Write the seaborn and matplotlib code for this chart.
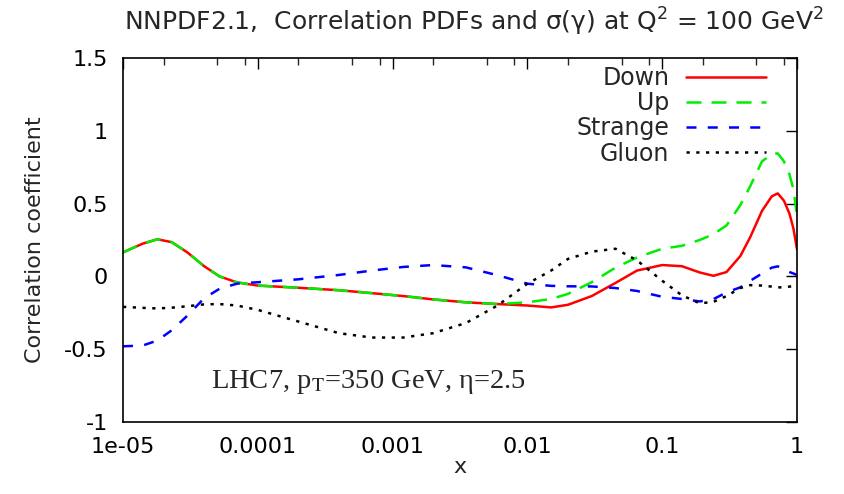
import numpy as np
import pandas as pd
import matplotlib
matplotlib.use("Agg")
import matplotlib.pyplot as plt
from matplotlib.ticker import FixedLocator, FixedFormatter
import seaborn as sns

# ---------------- data ----------------
x_vals = [1e-5, 1.4e-5, 1.8e-5, 2.3e-5, 3e-5, 4e-5, 5.2e-5, 7e-5, 1e-4, 2e-4,
          4e-4, 7e-4, 1.2e-3, 2e-3, 3.5e-3, 6e-3, 0.01, 0.015, 0.02, 0.03,
          0.045, 0.065, 0.1, 0.14, 0.19, 0.24, 0.3, 0.38, 0.45, 0.55,
          0.65, 0.72, 0.8, 0.88, 0.94, 1.0]

down = [0.165, 0.225, 0.255, 0.235, 0.165, 0.07, 0.0, -0.041, -0.063, -0.078,
        -0.095, -0.115, -0.135, -0.158, -0.178, -0.19, -0.2, -0.213, -0.195, -0.135,
        -0.045, 0.04, 0.078, 0.07, 0.027, 0.004, 0.03, 0.14, 0.27, 0.45,
        0.55, 0.57, 0.52, 0.43, 0.33, 0.187]

up = [0.165, 0.225, 0.255, 0.235, 0.165, 0.07, 0.0, -0.041, -0.063, -0.078,
      -0.095, -0.115, -0.135, -0.158, -0.178, -0.19, -0.178, -0.155, -0.12, -0.04,
      0.06, 0.13, 0.19, 0.21, 0.25, 0.29, 0.35, 0.49, 0.62, 0.79,
      0.84, 0.845, 0.79, 0.7, 0.6, 0.416]

strange = [-0.48, -0.475, -0.44, -0.37, -0.27, -0.15, -0.085, -0.05, -0.04, -0.02,
           0.01, 0.04, 0.065, 0.078, 0.062, 0.008, -0.05, -0.065, -0.068, -0.069,
           -0.08, -0.1, -0.14, -0.155, -0.172, -0.156, -0.11, -0.075, -0.03, 0.02,
           0.06, 0.069, 0.05, 0.03, 0.02, 0.01]

gluon = [-0.209, -0.216, -0.22, -0.215, -0.205, -0.192, -0.19, -0.2, -0.23, -0.31,
         -0.39, -0.42, -0.42, -0.39, -0.32, -0.2, -0.05, 0.04, 0.12, 0.17,
         0.19, 0.11, -0.03, -0.13, -0.185, -0.175, -0.135, -0.08, -0.06, -0.063,
         -0.07, -0.075, -0.076, -0.07, -0.067, -0.065]

series_names = ["Down", "Up", "Strange", "Gluon"]
series_values = [down, up, strange, gluon]

x_tick_values = [1e-5, 1e-4, 1e-3, 1e-2, 1e-1, 1]
x_tick_labels = ["1e-05", "0.0001", "0.001", "0.01", "0.1", "1"]
y_tick_values = [-1, -0.5, 0, 0.5, 1, 1.5]
y_tick_labels = ["-1", "-0.5", "0", "0.5", "1", "1.5"]

# ---------------- style ----------------
sns.set_style("white")
plt.rcParams["font.family"] = ["DejaVu Sans"]
plt.rcParams["mathtext.fontset"] = "dejavusans"

colors = {"Down": "#ff0000", "Up": "#00ee00", "Strange": "#0000ff", "Gluon": "#000000"}
dash_patterns = {"Down": None, "Up": (6, 4), "Strange": (4, 4.5), "Gluon": (1.3, 2.6)}

fig = plt.figure(figsize=(8.44, 4.94), dpi=100)
ax = fig.add_axes([123 / 844, 1 - 422 / 494, (797 - 123) / 844, (422 - 58) / 494])

for name, vals in zip(series_names, series_values):
    df = pd.DataFrame({"x": x_vals, "y": vals})
    sns.lineplot(data=df, x="x", y="y", ax=ax, color=colors[name], lw=1.8,
                 label=name, legend=False)
    line = ax.lines[-1]
    if dash_patterns[name] is not None:
        line.set_dashes(dash_patterns[name])

ax.set_xscale("log")
ax.set_xlim(1e-5, 1)
ax.set_ylim(-1, 1.5)

ax.xaxis.set_major_locator(FixedLocator(x_tick_values))
ax.xaxis.set_major_formatter(FixedFormatter(x_tick_labels))
minor = []
for d in range(-5, 0):
    for m in (2, 5, 8):
        minor.append(m * 10.0 ** d)
ax.xaxis.set_minor_locator(FixedLocator(minor))
ax.xaxis.set_minor_formatter(FixedFormatter([""] * len(minor)))
ax.yaxis.set_major_locator(FixedLocator(y_tick_values))
ax.yaxis.set_major_formatter(FixedFormatter(y_tick_labels))

ax.tick_params(which="major", direction="in", length=8, width=1, top=True, right=True,
               labelsize=16, colors="black", pad=11)
ax.tick_params(which="minor", direction="in", length=5, width=1, top=True, right=True)
for sp in ax.spines.values():
    sp.set_color("black")
    sp.set_linewidth(1.2)

ax.set_xlabel("x", fontsize=16, labelpad=0)
ax.set_ylabel("Correlation coefficient", fontsize=16, labelpad=14)

fig.text(474 / 844, 1 - 22 / 494, r"NNPDF2.1,  Correlation PDFs and σ(γ) at Q$^2$ = 100 GeV$^2$",
         ha="center", va="center", fontsize=18)

ax.text(0.13, 0.11, r"LHC7, p$_\mathrm{T}$=350 GeV, η=2.5", transform=ax.transAxes,
        family="Liberation Serif", math_fontfamily="stix", fontsize=20.5,
        ha="left", va="center")

handles, labels = ax.get_legend_handles_labels()
leg = ax.legend(handles, labels, loc="upper right", bbox_to_anchor=(766 / 844, 1 - 66 / 494),
                bbox_transform=fig.transFigure, frameon=False, markerfirst=False,
                handlelength=3.4, handletextpad=0.7, labelspacing=0.05, fontsize=17,
                borderaxespad=0, borderpad=0)

fig.savefig("out.png", dpi=100)
